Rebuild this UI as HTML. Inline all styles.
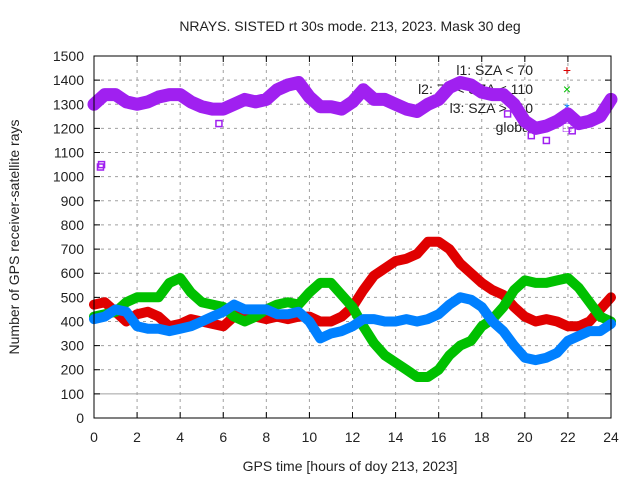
<!DOCTYPE html>
<html><head><meta charset="utf-8"><style>
body{margin:0;background:#fff}
svg text{font-family:"Liberation Sans",sans-serif;font-size:14px;fill:#222}
</style></head><body>
<svg id="c" width="640" height="480"></svg>
<script>
const hours=[0,0.5,1,1.5,2,2.5,3,3.5,4,4.5,5,5.5,6,6.5,7,7.5,8,8.5,9,9.5,10,10.5,11,11.5,12,12.5,13,13.5,14,14.5,15,15.5,16,16.5,17,17.5,18,18.5,19,19.5,20,20.5,21,21.5,22,22.5,23,23.5,24];
const l1=[470,480,440,400,430,440,420,380,390,410,400,390,380,420,440,420,410,420,410,420,420,400,400,420,460,530,590,620,650,660,680,730,730,700,640,600,560,530,510,460,420,400,410,400,380,380,400,450,500];
const l2=[420,430,440,480,500,500,500,560,580,520,480,470,460,420,400,420,450,470,480,470,520,560,560,510,460,380,310,260,230,200,170,170,200,260,300,320,380,410,460,530,570,560,560,570,580,540,480,420,400];
const l3=[410,420,450,440,380,370,370,360,370,380,400,420,440,470,450,450,450,430,430,440,400,330,350,360,380,410,410,400,400,410,400,410,430,470,500,490,460,400,360,300,250,240,250,270,320,340,360,360,390];
const glob=[1300,1340,1340,1310,1300,1310,1330,1340,1340,1310,1290,1280,1280,1300,1320,1310,1320,1360,1380,1390,1330,1290,1290,1280,1310,1360,1320,1320,1300,1280,1270,1300,1320,1370,1390,1380,1350,1340,1340,1300,1230,1200,1210,1230,1260,1220,1230,1250,1320];
const globOutX=[0.3,0.35,5.8,19.2,20.3,21,22.2];
const globOutY=[1040,1050,1220,1260,1170,1150,1190];
const xTicks=[0,2,4,6,8,10,12,14,16,18,20,22,24];
const yTicks=[0,100,200,300,400,500,600,700,800,900,1000,1100,1200,1300,1400,1500];
const legendLabels=["l1: SZA < 70","l2: 70 < SZA < 110","l3: SZA > 110","global"];
const colors=["#e00000","#00c000","#0080ff","#a020f0"];

const NS="http://www.w3.org/2000/svg",svg=document.getElementById('c');
const L=94,R=611,T=56,B=418;
const X=v=>L+(v/24)*(R-L), Y=v=>B-(v/1500)*(B-T);
function mk(t,a,p){const e=document.createElementNS(NS,t);for(const k in a)e.setAttribute(k,a[k]);(p||svg).appendChild(e);return e;}

xTicks.forEach(t=>{
 if(t>0&&t<24){const g=mk('line',{x1:X(t),x2:X(t),y1:T,y2:B,stroke:'#a0a0a0','stroke-dasharray':'3,4'});
 
 }
 const tk=mk('path',{d:`M${X(t)},${B}v-6M${X(t)},${T}v6`,stroke:'#000'});
 
 
 const tx=mk('text',{x:X(t),y:442,'text-anchor':'middle'});tx.textContent=t;
 
 
});
yTicks.forEach(t=>{
 if(t>0&&t<1500){const g=mk('line',{x1:L,x2:R,y1:Y(t),y2:Y(t),stroke:'#a0a0a0','stroke-dasharray':t==100?'':'3,4'});
 
 }
 const tk=mk('path',{d:`M${L},${Y(t)}h6M${R},${Y(t)}h-6`,stroke:'#000'});
 
 
 const tx=mk('text',{x:84,y:Y(t)+5,'text-anchor':'end'});tx.textContent=t;
 
 
});

legendLabels.forEach((s,i)=>{
 const y=70+i*19;
 const tx=mk('text',{x:533,y:y+5,'text-anchor':'end'});tx.textContent=s;
 
 
 const m=mk('text',{x:567,y:y+5,'text-anchor':'middle',style:'fill:'+colors[i]});m.textContent=['+','×','*','□'][i];
 
 
});

const series=[l1,l2,l3,glob];
const names=['series-l1','series-l2','series-l3','series-global'];
series.forEach((s,i)=>{
 const pts=s.map((v,j)=>X(hours[j]).toFixed(1)+','+Y(v).toFixed(1)).join(' ');
 const p=mk('polyline',{points:pts,fill:'none',stroke:colors[i],'stroke-width':i==3?13:10,'stroke-linejoin':'round','stroke-linecap':'round'});
 
 
});
globOutX.forEach((h,j)=>{
 const r=mk('rect',{x:X(h)-3,y:Y(globOutY[j])-3,width:6,height:6,fill:'none',stroke:colors[3],'stroke-width':1.5});
 
 
});

const fr=mk('rect',{x:L,y:T,width:R-L,height:B-T,fill:'none',stroke:'#000','stroke-width':1});


const ti=mk('text',{x:350,y:31,'text-anchor':'middle'});ti.textContent='NRAYS. SISTED rt 30s mode. 213, 2023. Mask 30 deg';


const xl=mk('text',{x:350,y:471,'text-anchor':'middle'});xl.textContent='GPS time [hours of doy 213, 2023]';


const yl=mk('text',{x:19,y:237,'text-anchor':'middle',transform:'rotate(-90 19 237)'});yl.textContent='Number of GPS receiver-satellite rays';


</script>
</body></html>
